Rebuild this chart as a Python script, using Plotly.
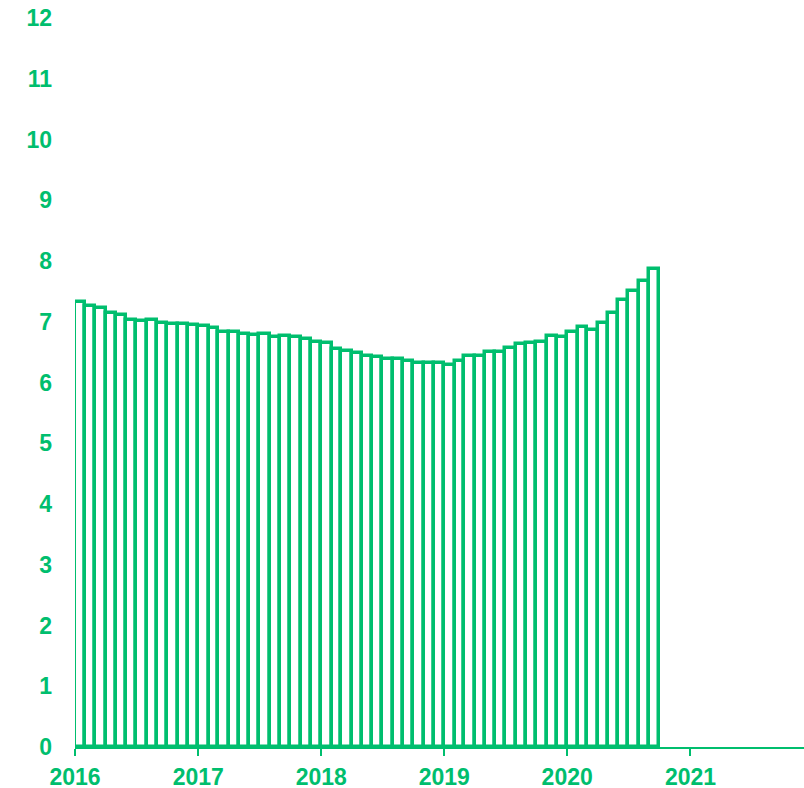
import pandas as pd
import plotly.graph_objects as go

months = pd.date_range("2016-01-01", periods=57, freq="MS")
values = [
    7.32, 7.26, 7.22, 7.14, 7.11, 7.03, 7.02, 7.03, 6.98, 6.96, 6.96, 6.94,
    6.93, 6.90, 6.83, 6.83, 6.80, 6.78, 6.80, 6.75, 6.76, 6.75, 6.71, 6.67,
    6.65, 6.55, 6.52, 6.49, 6.44, 6.42, 6.38, 6.38, 6.35, 6.32, 6.32, 6.32,
    6.28, 6.36, 6.44, 6.44, 6.51, 6.51, 6.57, 6.64, 6.65, 6.67, 6.76, 6.75,
    6.83, 6.91, 6.86, 6.98, 7.14, 7.35, 7.51, 7.67, 7.87,
]
y_ticks = list(range(0, 13))

GREEN = "#00BE6E"

next_months = months + pd.offsets.MonthBegin(1)
widths = [(b - a).total_seconds() * 1000 for a, b in zip(months, next_months)]

fig = go.Figure(
    go.Bar(
        x=months,
        y=values,
        width=widths,
        offset=0,
        marker=dict(color="white", line=dict(color=GREEN, width=3.5)),
    )
)

fig.update_layout(
    width=804,
    height=788,
    margin=dict(l=75, r=0, t=18, b=41),
    paper_bgcolor="white",
    plot_bgcolor="white",
    showlegend=False,
    bargap=0,
    font=dict(family="Liberation Sans, Arial, sans-serif", color=GREEN, size=23, weight="bold"),
)

fig.update_xaxes(
    type="date",
    range=["2016-01-01", "2021-12-04"],
    dtick="M12",
    tick0="2016-01-01",
    tickformat="%Y",
    showgrid=False,
    zeroline=False,
    showline=True,
    linecolor=GREEN,
    linewidth=2,
    ticks="outside",
    ticklen=7,
    tickwidth=2,
    tickcolor=GREEN,
    ticklabelstandoff=1,
    automargin=False,
    tickfont=dict(size=23, color=GREEN, weight="bold"),
)

fig.update_yaxes(
    range=[0, 12],
    tickvals=y_ticks,
    showgrid=False,
    zeroline=False,
    showline=False,
    ticks="",
    ticklabelstandoff=22,
    automargin=False,
    tickfont=dict(size=23, color=GREEN, weight="bold"),
)

fig.write_html(
    "out.html",
    config={"displayModeBar": False},
    post_script="document.body.style.margin='0';document.body.style.overflow='hidden';",
)
